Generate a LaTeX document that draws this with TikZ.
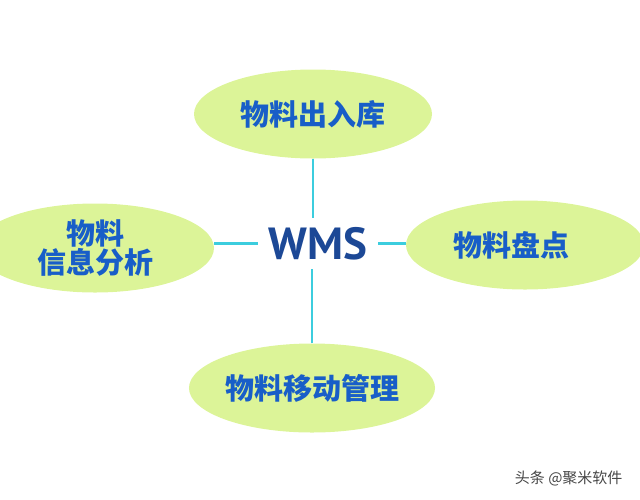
\documentclass[tikz,border=0pt]{standalone}
\usepackage{fontspec}
\newfontfamily\cjk{Noto Sans CJK SC}
\newfontfamily\cjkheavy{Noto Sans CJK SC Black}
\newfontfamily\wmsfont{PT Sans}
\definecolor{leafgreen}{RGB}{220, 244, 152}
\definecolor{textblue}{RGB}{24, 94, 200}
\definecolor{hubblue}{RGB}{28, 72, 150}
\definecolor{linkcyan}{RGB}{60, 205, 222}
\definecolor{markgray}{RGB}{70, 70, 70}
\usetikzlibrary{shapes.geometric, positioning, calc}
\tikzset{
  topic/.style={ellipse, fill=leafgreen, minimum width=238pt, minimum height=89pt, inner sep=0pt, align=center, text=textblue, font=\cjkheavy\fontsize{29}{33}\selectfont},
  link/.style={draw=linkcyan, line width=2.5pt}
}

\begin{document}
\begin{tikzpicture}[x=1pt, y=-1pt]
  \useasboundingbox (0,0) rectangle (640,499);

  % Hub
  \node[minimum width=120pt, minimum height=51pt, inner sep=0pt, text=hubblue, font=\wmsfont\bfseries\fontsize{45}{49}\selectfont] (wms) at (318, 243.5) {WMS};

  % Topics
  \node[topic] (inout) at (313, 114) {物料出入库};
  \node[topic] (analysis) at (95, 248) {物料\\[-4pt]信息分析};
  \node[topic] (count) at (525, 245) {物料盘点\hspace*{28pt}};
  \node[topic] (move) at (312, 388) {物料移动管理};

  % Links
  \draw[link] (inout) -- (inout |- wms.north);
  \draw[link] (move) -- (move |- wms.south);
  \draw[link] (wms.west) -- (wms.west -| analysis.east);
  \draw[link] (wms.east) -- (wms.east -| count.west);

  % Watermark
  \node[text=markgray, font=\cjk\fontsize{15}{17}\selectfont, anchor=east] (mark) at (626, 478) {头条 @聚米软件};
\end{tikzpicture}
\end{document}
